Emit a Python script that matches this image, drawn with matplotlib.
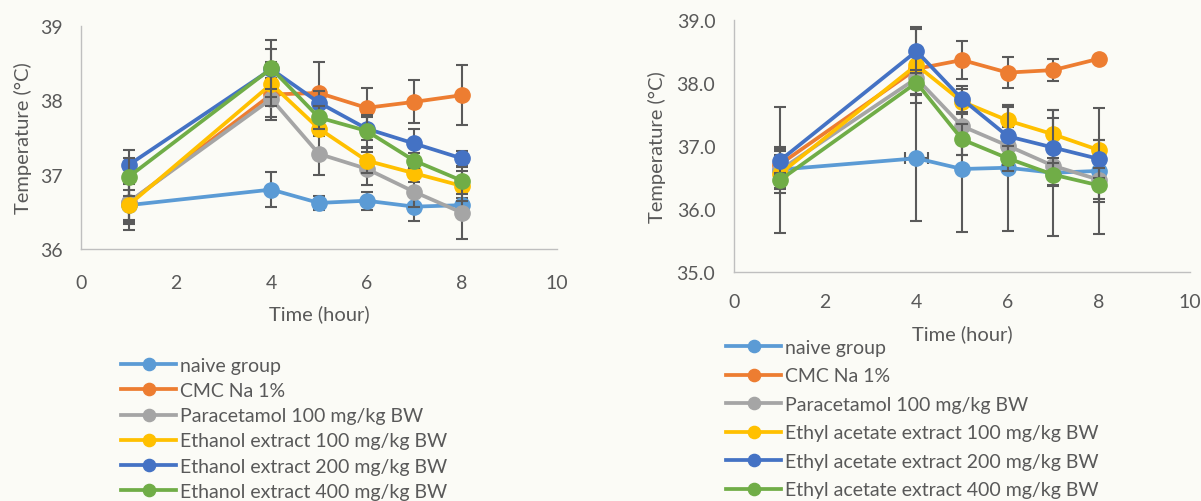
import matplotlib.pyplot as plt
import numpy as np

plt.rcParams['font.family'] = ['Lato', 'DejaVu Sans']

# time points (hour)
hours = [1, 4, 5, 6, 7, 8]

# left panel: ethanol extract
left_labels = ["naive group", "CMC Na 1%", "Paracetamol 100 mg/kg BW",
               "Ethanol extract 100 mg/kg BW", "Ethanol extract 200 mg/kg BW",
               "Ethanol extract 400 mg/kg BW"]
left_naive = [36.59, 36.80, 36.62, 36.65, 36.57, 36.59]
left_cmc = [36.62, 38.08, 38.10, 37.90, 37.98, 38.07]
left_para = [36.63, 38.02, 37.28, 37.08, 36.77, 36.49]
left_e100 = [36.59, 38.22, 37.62, 37.19, 37.02, 36.85]
left_e200 = [37.13, 38.42, 37.97, 37.62, 37.42, 37.22]
left_e400 = [36.97, 38.43, 37.77, 37.59, 37.19, 36.92]
left_err = [
    [0.34, 0.24, 0.10, 0.12, 0.19, 0.10],
    [0.25, 0.30, 0.42, 0.27, 0.29, 0.40],
    [0.30, 0.28, 0.28, 0.22, 0.20, 0.36],
    [0.20, 0.30, 0.10, 0.17, 0.12, 0.20],
    [0.20, 0.27, 0.15, 0.15, 0.20, 0.10],
    [0.25, 0.38, 0.15, 0.22, 0.10, 0.18],
]

# right panel: ethyl acetate extract
right_labels = ["naive group", "CMC Na 1%", "Paracetamol 100 mg/kg BW",
                "Ethyl acetate extract 100 mg/kg BW", "Ethyl acetate extract 200 mg/kg BW",
                "Ethyl acetate extract 400 mg/kg BW"]
right_naive = [36.62, 36.80, 36.63, 36.65, 36.57, 36.60]
right_cmc = [36.70, 38.22, 38.36, 38.16, 38.20, 38.38]
right_para = [36.61, 38.07, 37.31, 37.00, 36.68, 36.46]
right_e100 = [36.55, 38.28, 37.70, 37.40, 37.18, 36.93]
right_e200 = [36.76, 38.50, 37.74, 37.15, 36.97, 36.79]
right_e400 = [36.45, 38.00, 37.10, 36.80, 36.54, 36.37]
right_err = [
    [1.00, 1.00, 1.00, 1.00, 1.00, 1.00],
    [0.25, 0.30, 0.30, 0.25, 0.18, 0.05],
    [0.30, 0.25, 0.45, 0.30, 0.30, 0.30],
    [0.30, 0.60, 0.20, 0.25, 0.38, 0.16],
    [0.22, 0.35, 0.20, 0.46, 0.47, 0.30],
    [0.12, 0.20, 0.25, 0.20, 0.18, 0.27],
]
right_naive_xerr = [0, 0.25, 0, 0, 0, 0]

colors = ["#5B9BD5", "#ED7D31", "#A5A5A5", "#FFC000", "#4472C4", "#70AD47"]
txt = "#595959"
bg = "#fbfbf6"

fig = plt.figure(figsize=(12.01, 5.02), dpi=100, facecolor=bg)
ax1 = fig.add_axes([0.0674, 0.502, 0.3963, 0.444])
ax2 = fig.add_axes([0.6112, 0.4568, 0.3797, 0.502])


def draw(ax, series, errs, labels, xerr0=None):
    for i, (ys, e, lab) in enumerate(zip(series, errs, labels)):
        xe = xerr0 if (i == 0 and xerr0 is not None) else None
        ax.errorbar(hours, ys, yerr=e, xerr=xe, fmt='-o', color=colors[i],
                    lw=2.7, ms=11,
                    ecolor="#5a5a5a", elinewidth=1.5, capsize=4.5, capthick=1.5,
                    label=lab, zorder=2 + i)
    ax.set_facecolor(bg)
    ax.set_xlim(0, 10)
    ax.set_xticks([0, 2, 4, 6, 8, 10])
    for s in ["top", "right"]:
        ax.spines[s].set_visible(False)
    for s in ["left", "bottom"]:
        ax.spines[s].set_color("#bfbfbf")
        ax.spines[s].set_linewidth(1.0)
    ax.tick_params(length=0, labelsize=14, labelcolor=txt)
    ax.set_xlabel("Time (hour)", fontsize=14.5, color=txt)
    ax.set_ylabel("Temperature (°C)", fontsize=14.5, color=txt)


draw(ax1, [left_naive, left_cmc, left_para, left_e100, left_e200, left_e400],
     left_err, left_labels)
ax1.set_ylim(36, 39)
ax1.set_yticks([36, 37, 38, 39])
ax1.tick_params(axis="x", pad=18)
ax1.tick_params(axis="y", pad=13)
ax1.xaxis.set_label_coords(0.5, -0.25)
ax1.yaxis.set_label_coords(-0.103, 0.5)

draw(ax2, [right_naive, right_cmc, right_para, right_e100, right_e200, right_e400],
     right_err, right_labels, xerr0=right_naive_xerr)
ax2.set_ylim(35, 39)
ax2.set_yticks([35, 36, 37, 38, 39])
ax2.yaxis.set_major_formatter(plt.FormatStrFormatter('%.1f'))
ax2.tick_params(axis="x", pad=15.5)
ax2.tick_params(axis="y", pad=13.5)
ax2.xaxis.set_label_coords(0.5, -0.207)
ax2.yaxis.set_label_coords(-0.15, 0.5)

h1, l1 = ax1.get_legend_handles_labels()
h1 = [h[0] for h in h1]
ax1.legend(h1, l1, loc="upper left", bbox_to_anchor=(121 / 1201, 1 - 358 / 502),
           bbox_transform=fig.transFigure, frameon=False, fontsize=14,
           labelcolor=txt, borderpad=0, borderaxespad=0, handlelength=2.85,
           handletextpad=0.2, labelspacing=0.42, markerscale=0.8)

h2, l2 = ax2.get_legend_handles_labels()
h2 = [h[0] for h in h2]
ax2.legend(h2, l2, loc="upper left", bbox_to_anchor=(726 / 1201, 1 - 340 / 502),
           bbox_transform=fig.transFigure, frameon=False, fontsize=14,
           labelcolor=txt, borderpad=0, borderaxespad=0, handlelength=2.85,
           handletextpad=0.2, labelspacing=0.59, markerscale=0.8)

fig.savefig("out.png", dpi=100, facecolor=bg)
